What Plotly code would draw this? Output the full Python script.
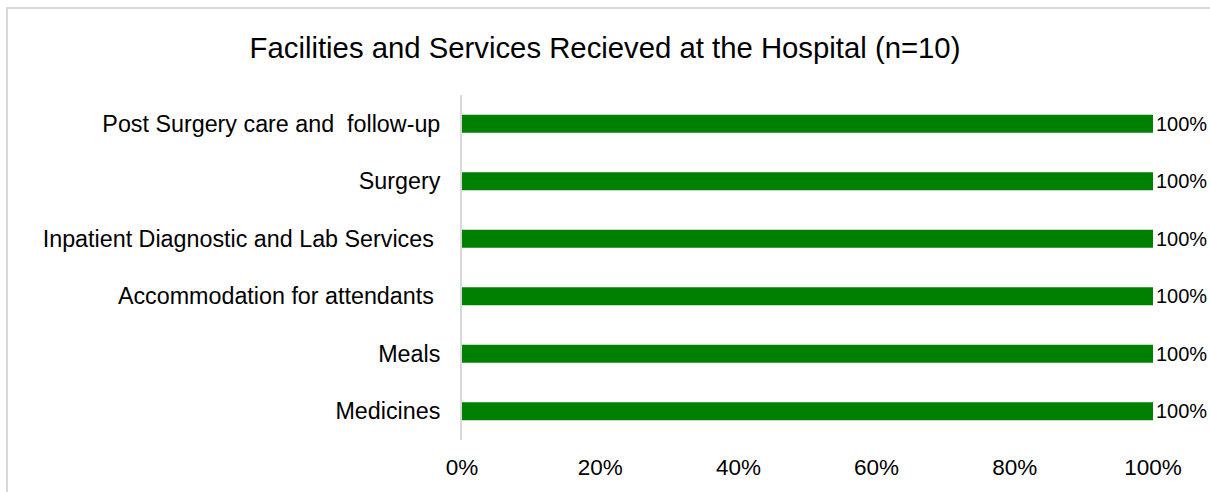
import plotly.graph_objects as go

categories = [
    "Medicines",
    "Meals",
    "Accommodation for attendants ",
    "Inpatient Diagnostic and Lab Services ",
    "Surgery",
    "Post Surgery care and  follow-up",
]
values = [1.0, 1.0, 1.0, 1.0, 1.0, 1.0]
bar_labels = ["100%", "100%", "100%", "100%", "100%", "100%"]
tick_vals = [0, 0.2, 0.4, 0.6, 0.8, 1.0]
tick_text = ["0%", "20%", "40%", "60%", "80%", "100%"]

W, H = 1210, 492
L, R, T, B = 462, 57, 95, 52
pw, ph = W - L - R, H - T - B

FONT = "Liberation Sans, Arial, sans-serif"

fig = go.Figure(
    go.Bar(
        y=categories,
        x=values,
        orientation="h",
        marker=dict(color="#008000", line=dict(width=0)),
        width=0.31,
        text=bar_labels,
        textposition="outside",
        constraintext="none",
        textfont=dict(size=20, color="#000000", family=FONT),
        cliponaxis=False,
        hoverinfo="skip",
    )
)

fig.update_layout(
    width=W,
    height=H,
    margin=dict(l=L, r=R, t=T, b=B, autoexpand=False),
    paper_bgcolor="white",
    plot_bgcolor="white",
    showlegend=False,
    font=dict(family=FONT, color="#000000"),
    title=dict(
        text="Facilities and Services Recieved at the Hospital (n=10)",
        x=0.5,
        xref="container",
        xanchor="center",
        y=1 - 48 / H,
        yref="container",
        yanchor="middle",
        font=dict(size=29.3, family=FONT, color="#000000"),
    ),
    xaxis=dict(
        range=[0, 1],
        tickvals=tick_vals,
        ticktext=tick_text,
        showgrid=False,
        zeroline=False,
        showline=False,
        ticks="",
        tickfont=dict(size=22.5, family=FONT, color="#000000"),
        ticklabelstandoff=11,
    ),
    yaxis=dict(
        type="category",
        categoryorder="array",
        categoryarray=categories,
        showgrid=False,
        zeroline=False,
        showline=True,
        linecolor="#d9d9d9",
        linewidth=2,
        ticks="",
        tickfont=dict(size=23.3, family=FONT, color="#000000"),
        ticklabelstandoff=15,
    ),
    shapes=[
        dict(
            type="rect",
            xref="paper",
            yref="paper",
            x0=(7 - L) / pw,
            x1=(W + 20 - L) / pw,
            y0=(H - T - (H + 20)) / ph,
            y1=(H - B - 8) / ph,
            line=dict(color="#d9d9d9", width=2),
            fillcolor="rgba(0,0,0,0)",
            layer="below",
        )
    ],
)

fig.write_html("out.html")
